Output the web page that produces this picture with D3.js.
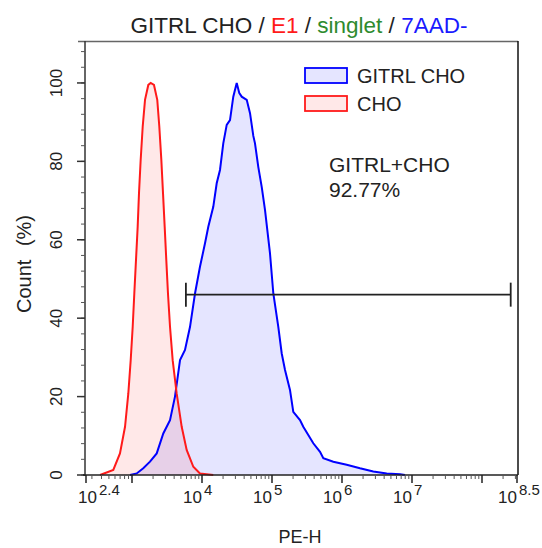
<!DOCTYPE html>
<html>
<head>
<meta charset="utf-8">
<script src="https://d3js.org/d3.v7.min.js"></script>
<style>
body { margin: 0; background: #fff; }
text { font-family: "Liberation Sans", Arial, sans-serif; fill: #222; }
.curve { fill-opacity: 0.1; }
</style>
</head>
<body>
<svg width="542" height="548"></svg>
<script>
// histogram outlines, x = log10(PE-H), y = count (%)
const choLog = [2.583, 2.756, 2.843, 2.909, 2.952, 2.983, 3.010, 3.033, 3.057, 3.081, 3.100, 3.124, 3.153, 3.186, 3.233, 3.267,
  3.314, 3.361, 3.390, 3.419, 3.443, 3.467, 3.490, 3.514, 3.543, 3.581, 3.638, 3.710, 3.781, 3.876, 3.971, 4.161];
const choCount = [0, 1.3, 5.5, 12.3, 20.8, 29.3, 37.8, 46.3, 54.8, 63.3, 71.9, 80.4, 88.9, 95.7, 99.5, 100,
  99.5, 95.7, 88.9, 80.4, 71.9, 63.3, 54.8, 46.3, 37.8, 29.3, 20.8, 12.3, 6.4, 2.1, 0.4, 0];

const gitrlLog = [2.974, 3.067, 3.161, 3.257, 3.353, 3.447, 3.543, 3.614, 3.686, 3.757, 3.829, 3.900, 3.971, 4.043, 4.090,
  4.161, 4.210, 4.257, 4.304, 4.353, 4.400, 4.447, 4.496, 4.533, 4.567, 4.639, 4.686, 4.733, 4.757, 4.804, 4.853, 4.900,
  4.971, 5.019, 5.090, 5.139, 5.186, 5.257, 5.304, 5.400, 5.447, 5.590, 5.686, 5.733, 5.876, 6.067, 6.257, 6.447, 6.639,
  6.829, 6.900];
const gitrlCount = [0, 0.4, 1.7, 3.4, 5.5, 10.6, 14, 20, 29.3, 31.9, 37.8, 46.3, 53.1, 59.1, 63.3,
  68.4, 74.4, 77.8, 84.6, 89.3, 90.5, 96.5, 100, 97.4, 96.5, 95.7, 92.3, 86.5, 84.6, 78.6, 73.5, 67.6,
  56.6, 46.3, 37.8, 31, 26.8, 21.7, 16.1, 14, 12.3, 8.1, 5.9, 4.3, 3.4, 2.6, 1.7, 0.9, 0.4,
  0.2, 0];

const xLabelTicks = [2.4, 4, 5, 6, 7, 8.5];
const xLabelExp = ['2.4', '4', '5', '6', '7', '8.5'];
const xPlainTicks = [3, 8];
const yTicks = [0, 20, 40, 60, 80, 100];

const legendNames = ['GITRL CHO', 'CHO'];
const legendColors = ['#0000ff', '#ff1a1a'];

const gateRange = [3.77, 8.41];
const gateLevel = 46;
const gateName = 'GITRL+CHO';
const gatePct = '92.77%';

const svg = d3.select('svg');

const x = d3.scaleLinear().domain([2.4, 3, 8.5]).range([86, 132, 517]);
const y = d3.scaleLinear().domain([0, 110.7]).range([475, 41]);

// title
const title = svg.append('text')
  .attr('x', 299).attr('y', 33)
  .attr('text-anchor', 'middle')
  .style('font-size', '22.5px');
[['GITRL CHO / ', '#222'], ['E1', '#ff1a1a'], [' / ', '#222'], ['singlet', '#2e8b2e'], [' / ', '#222'], ['7AAD-', '#1a1aff']]
  .forEach(p => title.append('tspan').text(p[0]).style('fill', p[1]));

// histograms
const area = d3.area()
  .x(d => x(d[0]))
  .y0(y(0))
  .y1(d => y(d[1]));

const series = [
  {pts: d3.zip(gitrlLog, gitrlCount), color: legendColors[0]},
  {pts: d3.zip(choLog, choCount), color: legendColors[1]}
];

svg.selectAll('.curve').data(series)
  .enter().append('path')
    .attr('class', 'curve')
    .attr('d', d => area(d.pts))
    .attr('fill', d => d.color)
    .attr('stroke', 'none');

const line = d3.line().x(d => x(d[0])).y(d => y(d[1]));
svg.selectAll('.outline').data(series)
  .enter().append('path')
    .attr('class', 'outline')
    .attr('d', d => line(d.pts))
    .attr('fill', 'none')
    .attr('stroke', d => d.color)
    .attr('stroke-width', 2);

// frame
svg.append('line').attr('x1', 78).attr('x2', 518).attr('y1', 41.5).attr('y2', 41.5)
  .attr('stroke', '#666').attr('stroke-width', 1.5);
svg.append('line').attr('x1', 518).attr('x2', 518).attr('y1', 41).attr('y2', 475)
  .attr('stroke', '#111').attr('stroke-width', 1.5);

// y axis
const yMinor = d3.range(0, 110, 4);
const yAxisG = svg.append('g').attr('transform', 'translate(85,0)');
yAxisG.append('line').attr('y1', 41).attr('y2', 476).attr('stroke', '#333').attr('stroke-width', 1.5);
yAxisG.selectAll('.ymin').data(yMinor).enter().append('line')
  .attr('x1', -4).attr('x2', 0)
  .attr('y1', d => y(d)).attr('y2', d => y(d))
  .attr('stroke', '#555');
yAxisG.selectAll('.ymaj').data(yTicks).enter().append('line')
  .attr('x1', -8).attr('x2', 0)
  .attr('y1', d => y(d)).attr('y2', d => y(d))
  .attr('stroke', '#333').attr('stroke-width', 1.5);
svg.selectAll('.ylab').data(yTicks).enter().append('text')
  .attr('transform', d => `translate(62,${y(d)}) rotate(-90)`)
  .attr('text-anchor', 'middle')
  .style('font-size', '17px')
  .text(d => d);
svg.append('text')
  .attr('transform', 'translate(31,264) rotate(-90)')
  .attr('text-anchor', 'middle')
  .style('font-size', '20px')
  .style('word-spacing', '8px')
  .text('Count (%)');

// x axis
const xMinor = [];
for (let k = 2; k <= 8; k++) {
  for (let m = 2; m <= 9; m++) {
    const v = k + Math.log10(m);
    if (v > 2.4 && v < 8.5) xMinor.push(v);
  }
}
const xAxisG = svg.append('g').attr('transform', 'translate(0,475)');
xAxisG.append('line').attr('x1', 83).attr('x2', 518).attr('stroke', '#222').attr('stroke-width', 1.5);
xAxisG.selectAll('.xmin').data(xMinor).enter().append('line')
  .attr('x1', d => x(d)).attr('x2', d => x(d))
  .attr('y1', 0).attr('y2', 4)
  .attr('stroke', '#555');
xAxisG.selectAll('.xmaj').data(xLabelTicks.concat(xPlainTicks)).enter().append('line')
  .attr('x1', d => x(d)).attr('x2', d => x(d))
  .attr('y1', 0).attr('y2', 8)
  .attr('stroke', '#222').attr('stroke-width', 1.5);

xLabelTicks.forEach((v, i) => {
  const px = Math.max(x(v), 97);
  svg.append('text')
    .attr('x', px).attr('y', 503)
    .attr('text-anchor', 'end')
    .style('font-size', '17px')
    .text('10');
  svg.append('text')
    .attr('x', px + 2).attr('y', 495)
    .style('font-size', '15px')
    .text(xLabelExp[i]);
});
svg.append('text')
  .attr('x', 300).attr('y', 543)
  .attr('text-anchor', 'middle')
  .style('font-size', '18px')
  .text('PE-H');

// gate
const gateG = svg.append('g').attr('stroke', '#222').attr('stroke-width', 1.8);
gateG.append('line')
  .attr('x1', x(gateRange[0])).attr('x2', x(gateRange[1]))
  .attr('y1', y(gateLevel)).attr('y2', y(gateLevel));
gateG.selectAll('.cap').data(gateRange).enter().append('line')
  .attr('x1', d => x(d)).attr('x2', d => x(d))
  .attr('y1', y(gateLevel) - 12).attr('y2', y(gateLevel) + 12);

svg.append('text').attr('x', 329).attr('y', 172).style('font-size', '21px').text(gateName);
svg.append('text').attr('x', 329).attr('y', 197).style('font-size', '21px').text(gatePct);

// legend
const leg = svg.selectAll('.leg').data(legendNames).enter().append('g')
  .attr('transform', (d, i) => `translate(305,${68 + i * 28})`);
leg.append('rect')
  .attr('width', 42).attr('height', 15)
  .attr('fill', (d, i) => legendColors[i]).attr('fill-opacity', 0.1)
  .attr('stroke', (d, i) => legendColors[i]).attr('stroke-width', 1.8);
leg.append('text')
  .attr('x', 52).attr('y', 15)
  .style('font-size', '20px')
  .text(d => d);
</script>
</body>
</html>
